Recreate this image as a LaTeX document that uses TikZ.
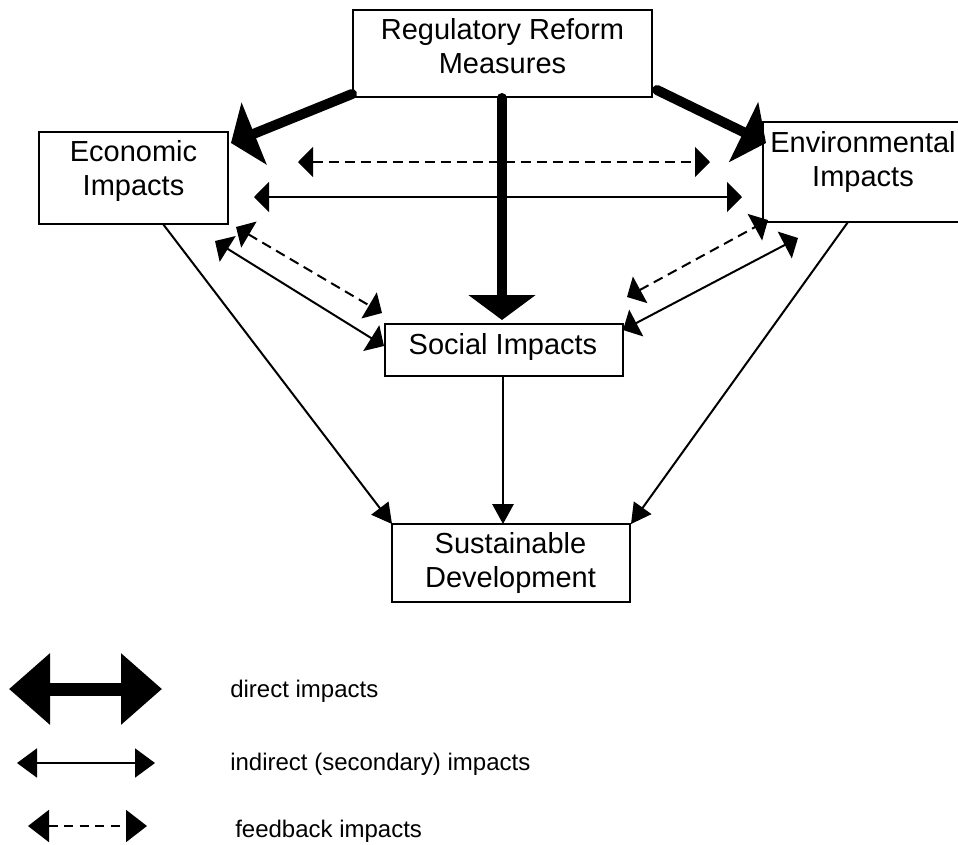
\documentclass[tikz,border=0pt]{standalone}
\usepackage{fontspec}
\setmainfont{Liberation Sans}
\usetikzlibrary{arrows.meta}
\begin{document}
\begin{tikzpicture}[x=0.75pt,y=-0.75pt,
  box/.style={draw, line width=1.5pt, inner sep=0pt},
  boxtext/.style={align=center, inner sep=0pt, font=\fontsize{21.75}{25.5}\selectfont},
  legtext/.style={anchor=base west, inner sep=0pt, font=\fontsize{18}{21}\selectfont},
  direct/.style={line width=7.5pt, line cap=round, -{Triangle[length=18.75pt,width=49.5pt]}},
  indirect/.style={line width=1.5pt, {Triangle[length=11.25pt,width=22.5pt]}-{Triangle[length=11.25pt,width=22.5pt]}},
  feedback/.style={indirect, dash pattern=on 7.5pt off 4.5pt},
  toSD/.style={line width=1.5pt, -{Triangle[length=15pt,width=16pt]}},
  legdirect/.style={line width=9.75pt, {Triangle[length=30.75pt,width=51.75pt]}-{Triangle[length=30.75pt,width=51.75pt]}},
  legindirect/.style={line width=1.5pt, {Triangle[length=15pt,width=21.75pt]}-{Triangle[length=15pt,width=21.75pt]}},
  legfeedback/.style={line width=1.5pt, dash pattern=on 6.75pt off 4.9pt, {Triangle[length=15.75pt,width=24pt]}-{Triangle[length=15.75pt,width=24pt]}}
]
\useasboundingbox (0,0) rectangle (958,844);
\clip (0,0) rectangle (958,844);
\fill[white] (0,0) rectangle (958,844);

% boxes
\node[box, minimum width=224.25pt, minimum height=65.25pt] (reg) at (502.5,53.5) {};
\node[box, minimum width=141.75pt, minimum height=69pt] (eco) at (133.5,178) {};
\node[box, minimum width=150pt, minimum height=75pt] (env) at (863,172) {};
\node[box, minimum width=178.5pt, minimum height=39pt] (soc) at (504,350) {};
\node[box, minimum width=178.5pt, minimum height=58.5pt] (sus) at (511,563) {};

% box texts
\node[boxtext] (regT) at (502.5,46) {Regulatory Reform\\Measures};
\node[boxtext] (ecoT) at (133.5,170.5) {Economic\\Impacts};
\node[boxtext] (envT) at (863,162) {Environmental\\Impacts};
\node[boxtext] (socT) at (503,346.5) {Social Impacts};
\node[boxtext] (susT) at (510.5,563) {Sustainable\\Development};

% endpoints
\coordinate (dL0) at (352,94);   \coordinate (dL1) at (231,143);
\coordinate (dR0) at (657,90);   \coordinate (dR1) at (766,143);
\coordinate (dC0) at (502,98);   \coordinate (dC1) at (502,320);
\coordinate (hF0) at (298,162);  \coordinate (hF1) at (710,162);
\coordinate (hS0) at (254,197);  \coordinate (hS1) at (742,197);
\coordinate (lS0) at (215,241);  \coordinate (lS1) at (384,346);
\coordinate (lF0) at (236,227);  \coordinate (lF1) at (382,313);
\coordinate (rF0) at (627,297);  \coordinate (rF1) at (768,220);
\coordinate (rS0) at (623,330);  \coordinate (rS1) at (798,238);
\coordinate (sd0) at (503,376);  \coordinate (sd1) at (503,524);
\coordinate (ed0) at (163,224);  \coordinate (ed1) at (392,524);
\coordinate (nd0) at (848,222);  \coordinate (nd1) at (631,524);

% direct impacts
\draw[direct] (dL0) -- (dL1);
\draw[direct] (dR0) -- (dR1);
\draw[direct] (dC0) -- (dC1);

% indirect and feedback
\draw[feedback] (hF0) -- (hF1);
\draw[indirect] (hS0) -- (hS1);
\draw[indirect] (lS0) -- (lS1);
\draw[feedback] (lF0) -- (lF1);
\draw[feedback] (rF0) -- (rF1);
\draw[indirect] (rS0) -- (rS1);

% to sustainable development
\draw[toSD] (sd0) -- (sd1);
\draw[toSD] (ed0) -- (ed1);
\draw[toSD] (nd0) -- (nd1);

% legend
\coordinate (L1a) at (9,689);   \coordinate (L1b) at (162,689);
\coordinate (L2a) at (17,763);  \coordinate (L2b) at (155,763);
\coordinate (L3a) at (28,826);  \coordinate (L3b) at (147,826);
\draw[legdirect] (L1a) -- (L1b);
\draw[legindirect] (L2a) -- (L2b);
\draw[legfeedback] (L3a) -- (L3b);
\node[legtext] (lt1) at (230,697) {direct impacts};
\node[legtext] (lt2) at (230,770) {indirect (secondary) impacts};
\node[legtext] (lt3) at (235,837) {feedback impacts};
\end{tikzpicture}
\end{document}
